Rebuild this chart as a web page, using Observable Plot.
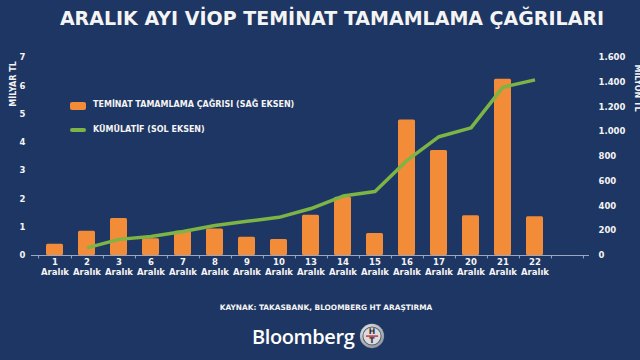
<!DOCTYPE html>
<html><head><meta charset="utf-8">
<script src="https://cdn.jsdelivr.net/npm/d3@7"></script>
<script src="https://cdn.jsdelivr.net/npm/@observablehq/plot@0.6"></script>
<style>
html,body{margin:0;padding:0;background:#1e3663;}
#wrap{position:relative;width:640px;height:360px;overflow:hidden;background:#1e3663;font-family:"DejaVu Sans",Verdana,sans-serif;color:#f4f4f4;}
#title{position:absolute;left:0;width:664px;top:7px;text-align:center;font-size:19px;font-weight:bold;white-space:nowrap;}
#chart{position:absolute;left:0;top:0;}
.lg{position:absolute;font-size:8px;font-weight:bold;white-space:nowrap;}
.ax{position:absolute;font-size:8px;font-weight:bold;white-space:nowrap;}
#cap{position:absolute;left:0;width:652px;top:303px;text-align:center;font-size:7.4px;font-weight:bold;white-space:nowrap;}
#logo{position:absolute;left:252px;top:321px;height:30px;display:flex;align-items:center;}
#logo span{font-family:"Open Sans","DejaVu Sans",sans-serif;font-size:20px;font-weight:600;color:#fff;letter-spacing:-0.4px;}
</style></head><body><div id="wrap">
<div id="chart"></div>
<div id="title">ARALIK AYI VİOP TEMİNAT TAMAMLAMA ÇAĞRILARI</div>
<div class="ax" style="left:13px;top:84px;transform:translate(-50%,-50%) rotate(-90deg);">MİLYAR TL</div>
<div class="ax" style="left:637px;top:88px;transform:translate(-50%,-50%) rotate(90deg);">MİLYON TL</div>
<div class="lg" style="left:70px;top:102px;width:16px;height:8px;background:#f28c38;border-radius:2px;"></div>
<div class="lg" style="left:93px;top:100px;">TEMİNAT TAMAMLAMA ÇAĞRISI (SAĞ EKSEN)</div>
<div class="lg" style="left:70px;top:128px;width:16px;height:4px;background:#7cb445;border-radius:2px;"></div>
<div class="lg" style="left:93px;top:125px;">KÜMÜLATİF (SOL EKSEN)</div>
<div id="cap">KAYNAK: TAKASBANK, BLOOMBERG HT ARAŞTIRMA</div>
<div id="logo"><span>Bloomberg</span>
<svg width="26" height="26" viewBox="0 0 30 30" style="margin-left:5px">
<defs><radialGradient id="g" cx="40%" cy="35%" r="70%"><stop offset="0" stop-color="#ffffff"/><stop offset="1" stop-color="#8a8f99"/></radialGradient></defs>
<circle cx="15" cy="15" r="14" fill="url(#g)"/>
<circle cx="15" cy="15" r="10.5" fill="#d9dce2" stroke="#5d636d" stroke-width="1.2"/>
<text x="15" y="13" text-anchor="middle" font-family="DejaVu Sans" font-weight="bold" font-size="9" fill="#333">H</text>
<rect x="8" y="14.3" width="14" height="1.6" fill="#d32027"/>
<text x="15" y="23.5" text-anchor="middle" font-family="DejaVu Sans" font-weight="bold" font-size="9" fill="#333">T</text>
</svg></div>
</div>
<script>
// categories (days of December)
const days = ["1","2","3","6","7","8","9","10","13","14","15","16","17","20","21","22"];
// daily margin calls, million TL (right axis)
const dailyCalls = [90,195,300,135,195,215,148,130,326,470,178,1094,848,321,1425,313];
// cumulative, billion TL (left axis), from day 2 on
const cumDays = ["2","3","6","7","8","9","10","13","14","15","16","17","20","21","22"];
const cumulative = [0.27,0.57,0.67,0.85,1.06,1.21,1.35,1.66,2.10,2.26,3.36,4.20,4.51,5.95,6.21];
// tick labels
const leftTicks = [0,1,2,3,4,5,6,7];
const rightTicks = [0,200,400,600,800,1000,1200,1400,1600];

const leftMax = 7, rightMax = 1600;
const toRight = v => v * rightMax / leftMax;
const xDomain = [...days, " "];
const barRows = days.map((d,i) => ({day:d, value:dailyCalls[i]}));
const lineRows = cumDays.map((d,i) => ({day:d, cum:cumulative[i]}));
const trFmt = d3.formatLocale({decimal:",", thousands:".", grouping:[3], currency:["","TL"]}).format(",");

const W = 640, ML = 31, MR = 51;
const step = (W - ML - MR) / xDomain.length;

const chart = Plot.plot({
  width: W, height: 290,
  marginTop: 57, marginBottom: 35, marginLeft: ML, marginRight: MR,
  style: {background:"transparent", color:"#f4f4f4", fontFamily:"DejaVu Sans, Verdana, sans-serif", fontSize:"8.5px", fontWeight:"bold", overflow:"visible"},
  x: {type:"band", domain: xDomain, paddingInner: 0.48, paddingOuter: 0.24, axis: null},
  y: {domain:[0, rightMax], axis: null},
  marks: [
    Plot.ruleY([0], {stroke:"#9aa8c2", strokeWidth:1}),
    Plot.ruleX(xDomain, {x: d => d, y1: 0, y2: -28, dx: step/2, stroke:"#9aa8c2", strokeWidth:1}),
    Plot.ruleX([xDomain[0]], {x: d => d, y1: 0, y2: -28, dx: -step/2, stroke:"#9aa8c2", strokeWidth:1}),
    Plot.barY(barRows, {x:"day", y:"value", fill:"#f28c38", rx:1.5}),
    Plot.line(lineRows, {x:"day", y: d => toRight(d.cum), stroke:"#7cb445", strokeWidth:3.5, strokeLinejoin:"round", strokeLinecap:"butt"}),
    Plot.axisX({tickSize:0, tickPadding:3, lineHeight:1.15, fill:"#f4f4f4", tickFormat: d => d.trim() ? d + "\nAralık" : "", label:null}),
    Plot.axisY(leftTicks.map(toRight), {anchor:"left", tickSize:0, tickPadding:6, tickFormat: d => String(Math.round(d * leftMax / rightMax)), label:null}),
    Plot.axisY(rightTicks, {anchor:"right", tickSize:0, tickPadding:9, tickFormat: trFmt, label:null, textAnchor:"start"})
  ]
});
document.getElementById("chart").appendChild(chart);
</script>
</body></html>
